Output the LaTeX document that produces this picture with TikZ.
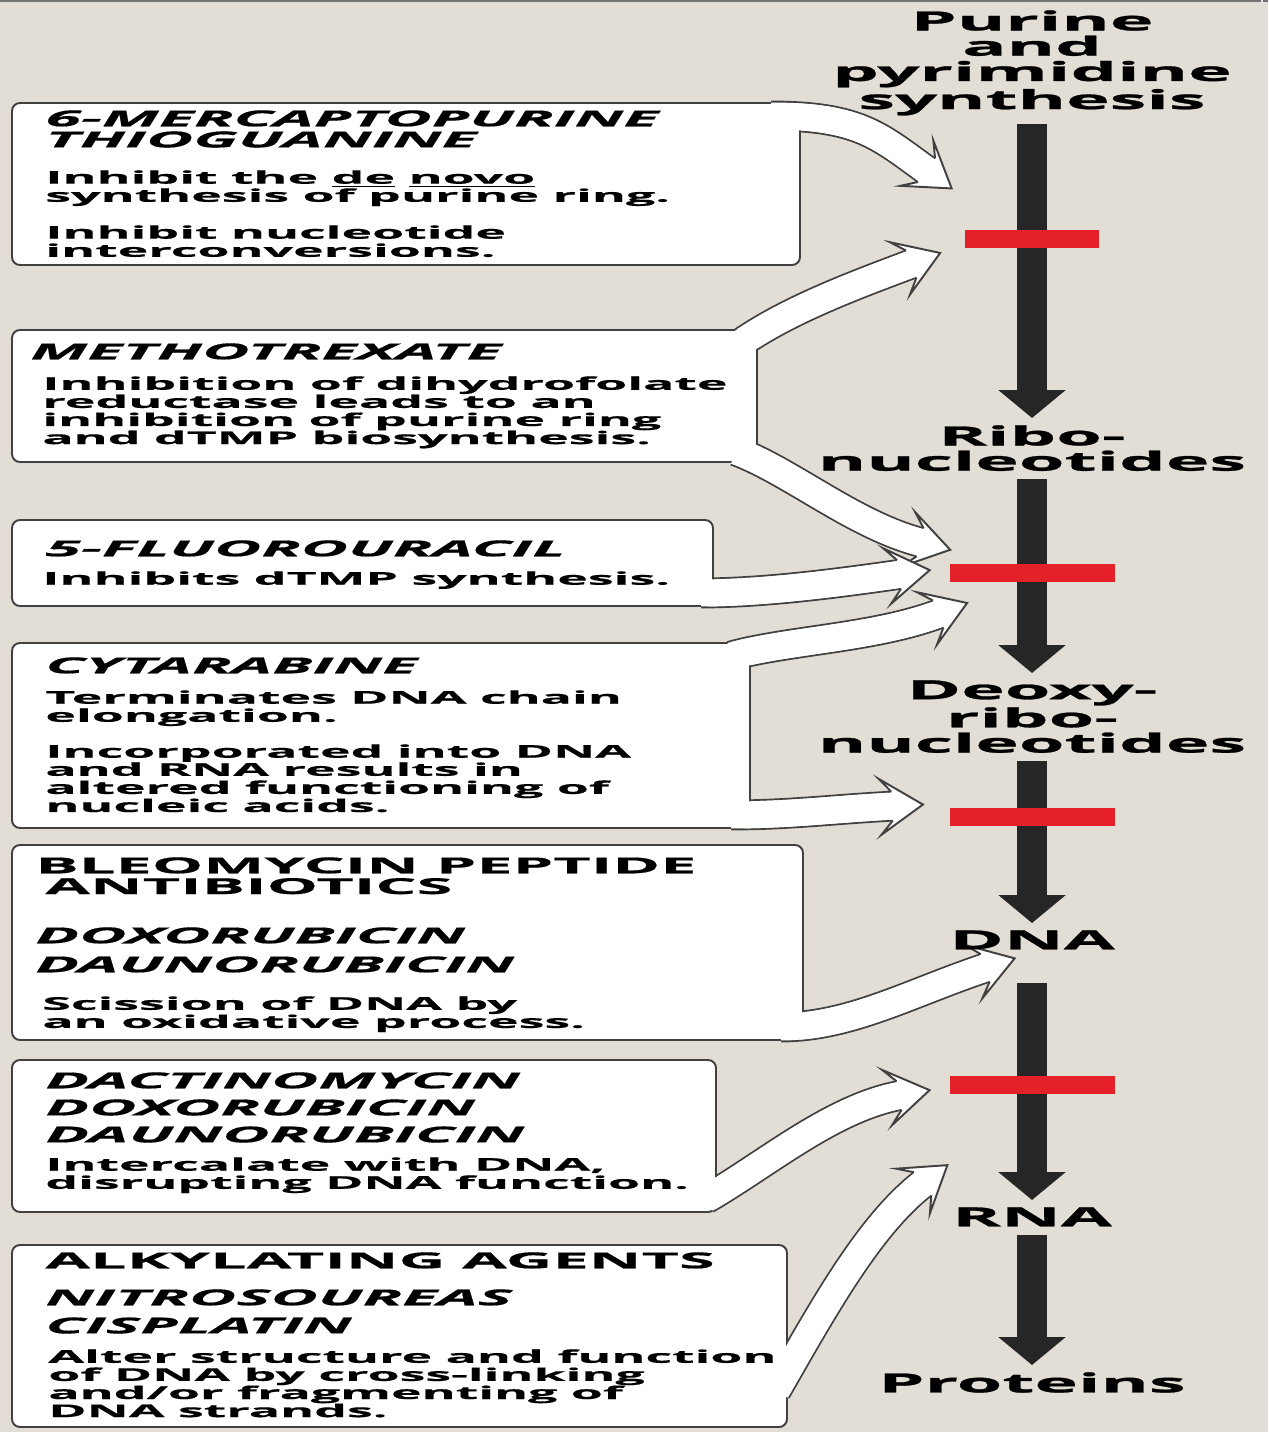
\documentclass[tikz,border=0pt]{standalone}
\usepackage{fontspec}
\newfontfamily\boxfont{Open Sans}[FakeStretch=2.95, FakeBold=0.6]
\newfontfamily\stepfont{Open Sans}[FakeStretch=2.8, FakeBold=1]
\usetikzlibrary{arrows.meta}
\usetikzlibrary{calc,fit,backgrounds}

\definecolor{paper}{RGB}{226,221,213}
\definecolor{flowgray}{RGB}{38,38,38}
\definecolor{blockred}{RGB}{228,32,40}
\definecolor{rim}{RGB}{65,65,65}

\tikzset{
  drugbox/.style={draw=rim, line width=1.1pt, fill=white, rounded corners=0.16cm, inner sep=0pt},
  band/.style={draw=rim, line width=1.1pt, double=white, double distance=0.54cm},
  bandcore/.style={white, line width=0.54cm},
  ahead/.pic={\filldraw[fill=white, draw=rim, line width=1.1pt] (-3,14.5) -- (-15,28) -- (28,0) -- (-15,-28) -- (-3,-14.5);},
  flow/.style={draw=flowgray, line width=0.6cm, shorten <=0.16cm, shorten >=0.14cm, -{Triangle[width=1.32cm,length=0.56cm]}},
  blockbar/.style={fill=blockred, inner sep=0pt, minimum height=0.36cm, minimum width=3.3cm},
  drug/.style={anchor=north west, inner sep=0pt, align=left, font=\boxfont\bfseries\itshape\fontsize{12.5}{12}\selectfont},
  drugclass/.style={drug, font=\boxfont\bfseries\fontsize{12.5}{11.8}\selectfont},
  note/.style={anchor=north west, inner sep=0pt, align=left, font=\boxfont\bfseries\fontsize{10}{10.3}\selectfont},
  steplabel/.style={anchor=north, inner sep=0pt, align=center, font=\stepfont\bfseries\fontsize{15}{14.4}\selectfont}
}

\begin{document}
\begin{tikzpicture}[x=0.02cm, y=-0.02cm]
\begin{pgfonlayer}{background}
\fill[paper] (0,0) rectangle (1268,1432);
\end{pgfonlayer}
\useasboundingbox (0,0) rectangle (1268,1432);
\draw[black!55, line width=1.2pt] (0,1) -- (1268,1);
\draw[black!12, line width=1pt] (1262,0) -- (1262,1432);

\node[drugbox, fit={(12,103) (800,265)}] (mp) {};
\node[drugbox, fit={(12,330) (757,462)}] (mtx) {};
\node[drugbox, fit={(12,520) (713,606)}] (fu) {};
\node[drugbox, fit={(12,643) (750,828)}] (cyt) {};
\node[drugbox, fit={(12,845) (803,1040)}] (bleo) {};
\node[drugbox, fit={(12,1060) (716,1212)}] (dact) {};
\node[drugbox, fit={(12,1245) (787,1427)}] (alk) {};

\coordinate (mpout) at ([shift={(-30,14)}]mp.north east);
\coordinate (mtxout) at ([shift={(-17,14)}]mtx.north east);
\coordinate (mtxout2) at ([shift={(-22,-12)}]mtx.south east);
\coordinate (fuout) at ([shift={(-13,-14)}]fu.south east);
\coordinate (cytout) at ([shift={(-20,14)}]cyt.north east);
\coordinate (cytout2) at ([shift={(-20,-14)}]cyt.south east);
\coordinate (bleoout) at ([shift={(-23,-14)}]bleo.south east);
\coordinate (dactout) at ([shift={(-11,-14)}]dact.south east);
\coordinate (alkout) at ([shift={(-12,-37)}]alk.south east);

\coordinate (mpin) at (929,172);
\coordinate (mtxin) at (914,263);
\coordinate (mtxin2) at (923,543);
\coordinate (fuin) at (902,574);
\coordinate (cytin) at (941,613);
\coordinate (cytin2) at (895,806);
\coordinate (bleoin) at (988,967);
\coordinate (dactin) at (902,1095);
\coordinate (alkin) at (925,1182);

\foreach \src/\ax/\ay/\bx/\by/\dst/\turn in {
  mpout/90/0/-49/-35/mpin/-36,
  mtxout/49/-34/-56/21/mtxin/21,
  mtxout2/56/21/-68/-17/mtxin2/-14,
  fuout/60/0/-69/10/fuin/8,
  cytout/58/-16/-65/25/cytin/21,
  cytout2/60/0/-60/3/cytin2/3,
  bleoout/70/0/-76/25/bleoin/18,
  dactout/61/-35/-69/12/dactin/10,
  alkout/45/-78/-56/42/alkin/37} {
 \begin{pgfonlayer}{background}
 \draw[band] (\src) .. controls +(\ax,\ay) and +(\bx,\by) .. (\dst);
 \end{pgfonlayer}
 \draw[bandcore] (\src) .. controls +(\ax,\ay) and +(\bx,\by) .. (\dst);
 \pic[rotate=\turn] at (\dst) {ahead};
}

\node[steplabel] (syn) at (1032,10) {Purine\\and\\pyrimidine\\synthesis};
\node[steplabel] (ribo) at (1032,425) {Ribo-\\nucleotides};
\node[steplabel] (deoxy) at (1032,680) {Deoxy-\\ribo-\\nucleotides};
\node[steplabel] (dna) at (1032,930) {DNA};
\node[steplabel] (rna) at (1032,1207) {RNA};
\node[steplabel] (prot) at (1032,1372) {Proteins};

\draw[flow] (syn) -- (ribo);
\draw[flow] (ribo) -- (deoxy);
\draw[flow] (deoxy) -- (dna);
\draw[flow, shorten <=0.66cm] (dna) -- (rna);
\draw[flow] (rna) -- (prot);

\node[blockbar, minimum width=2.68cm] (bar1) at (1032,239) {};
\node[blockbar] (bar2) at (1032,573) {};
\node[blockbar] (bar3) at (1032,817) {};
\node[blockbar] (bar4) at (1032,1085) {};

\node[drug] (mpname) at (45,110) {6-MERCAPTOPURINE\\THIOGUANINE};
\node[note] (mpnote1) at (45,170) {Inhibit the \underline{de} \underline{novo}\\synthesis of purine ring.};
\node[note] (mpnote2) at (45,225) {Inhibit nucleotide\\interconversions.};
\node[drug] (mtxname) at (30,343) {METHOTREXATE};
\node[note] (mtxnote) at (42,376) {Inhibition of dihydrofolate\\reductase leads to an\\inhibition of purine ring\\and dTMP biosynthesis.};
\node[drug] (funame) at (45,540) {5-FLUOROURACIL};
\node[note] (funote) at (42,571) {Inhibits dTMP synthesis.};
\node[drug] (cytname) at (45,657) {CYTARABINE};
\node[note] (cytnote1) at (45,690) {Terminates DNA chain\\elongation.};
\node[note] (cytnote2) at (45,744) {Incorporated into DNA\\and RNA results in\\altered functioning of\\nucleic acids.};
\node[drugclass] (bleoname) at (35,857) {BLEOMYCIN PEPTIDE\\\hspace*{0.2cm}ANTIBIOTICS};
\node[drug] (bleodrugs) at (35,927) {DOXORUBICIN\\[4.5pt]DAUNORUBICIN};
\node[note] (bleonote) at (42,996) {Scission of DNA by\\an oxidative process.};
\node[drug] (dactdrugs) at (45,1072) {DACTINOMYCIN\\[3.4pt]DOXORUBICIN\\[3.4pt]DAUNORUBICIN};
\node[note] (dactnote) at (45,1157) {Intercalate with DNA,\\disrupting DNA function.};
\node[drugclass] (alkname) at (45,1252) {ALKYLATING AGENTS};
\node[drug] (alkdrugs) at (45,1289) {NITROSOUREAS\\[4pt]CISPLATIN};
\node[note] (alknote) at (48,1349) {Alter structure and function\\of DNA by cross-linking\\and/or fragmenting of\\DNA strands.};
\end{tikzpicture}
\end{document}
